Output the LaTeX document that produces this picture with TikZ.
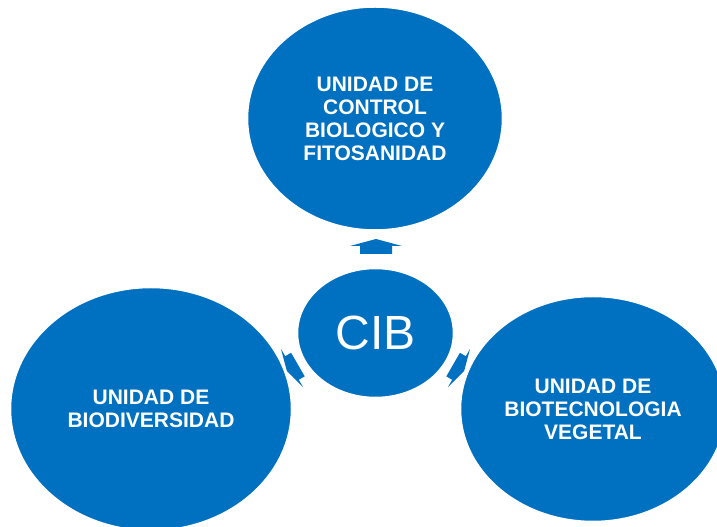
\documentclass[tikz,border=0pt]{standalone}
\usepackage{fontspec}
\setmainfont{Liberation Sans}
\usetikzlibrary{shapes.geometric,calc}
\definecolor{cibblue}{RGB}{0,112,192}
\pgfdeclarelayer{background}
\pgfsetlayers{background,main}
\begin{document}
\begin{tikzpicture}[x=1pt,y=1pt,
  unit/.style={ellipse, fill=cibblue, draw=white, line width=2.5pt, inner sep=0pt,
    text=white, align=center, font=\bfseries\fontsize{21}{23}\selectfont},
  blockarrow/.pic={\fill[cibblue] (-8,-16) -- (0,-16) -- (0,-26) -- (7,0) -- (0,26) -- (0,16) -- (-8,16) -- cycle;}
]
\useasboundingbox (0,0) rectangle (717,527);
\clip (0,0) rectangle (717,527);
\node[unit, minimum width=157pt, minimum height=130pt,
  font=\fontsize{48}{50}\selectfont] (cib) at (375.5,194) {CIB};
\node[unit, minimum width=256pt, minimum height=224pt] (top) at (375,408.5)
  {UNIDAD DE\\CONTROL\\BIOLOGICO Y\\FITOSANIDAD};
\node[unit, minimum width=282pt, minimum height=244pt] (left) at (151,118)
  {UNIDAD DE\\BIODIVERSIDAD};
\node[unit, minimum width=266pt, minimum height=226pt] (right) at (593,118)
  {UNIDAD DE\\BIOTECNOLOGIA\\VEGETAL};
\begin{pgfonlayer}{background}
\pic[rotate=90] at ($(cib.center)+(0.5,87)$) {blockarrow};
\pic[rotate=210, scale=0.85] at ($(cib.center)+(-83.5,-35)$) {blockarrow};
\pic[rotate=330, scale=0.85] at ($(cib.center)+(83.5,-35)$) {blockarrow};
\end{pgfonlayer}
\end{tikzpicture}
\end{document}
